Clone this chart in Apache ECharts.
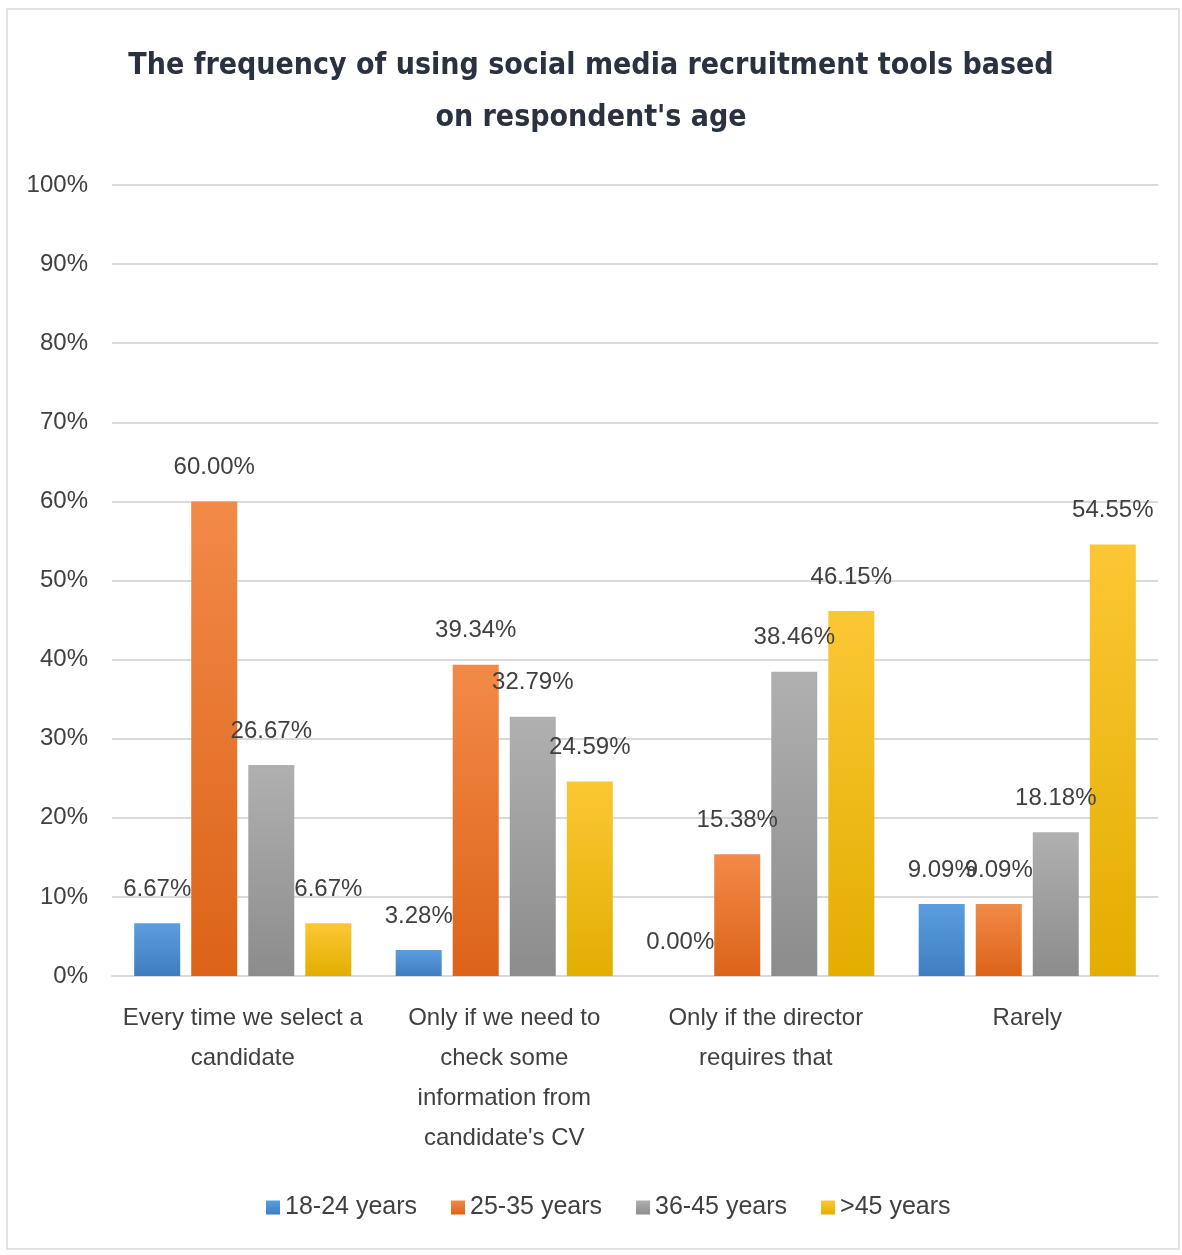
<!DOCTYPE html>
<html>
<head>
<meta charset="utf-8">
<script src="https://cdn.jsdelivr.net/npm/echarts@6/dist/echarts.min.js"></script>
<style>
  html, body { margin: 0; padding: 0; background: #fff; }
  #frame { position: absolute; left: 6px; top: 8px; width: 1170px; height: 1238px; border: 2px solid #e2e2e2; }
  #chart { position: absolute; left: 0; top: 0; width: 1182px; height: 1255px; }
</style>
</head>
<body>
<div id="frame"></div>
<div id="chart"></div>
<script>
  // categories (explicit line breaks as in the picture)
  const categories = [
    'Every time we select a\ncandidate',
    'Only if we need to\ncheck some\ninformation from\ncandidate\'s CV',
    'Only if the director\nrequires that',
    'Rarely'
  ]
  const seriesNames = ['18-24 years', '25-35 years', '36-45 years', '>45 years']
  const age18to24 = [6.67, 3.28, 0.00, 9.09]
  const age25to35 = [60.00, 39.34, 15.38, 9.09]
  const age36to45 = [26.67, 32.79, 38.46, 18.18]
  const ageOver45 = [6.67, 24.59, 46.15, 54.55]
  const yTicks = [0, 10, 20, 30, 40, 50, 60, 70, 80, 90, 100]

  const values = [age18to24, age25to35, age36to45, ageOver45]
  const colors = [
    ['#5a9ee0', '#3f7dc0'],
    ['#f28a48', '#dc6318'],
    ['#b0b0b0', '#8c8c8c'],
    ['#fcc734', '#e2ae00']
  ]
  const legendColors = ['#4a8cd0', '#e8732a', '#a0a0a0', '#f7bd14']
  const font = "'Liberation Sans', Arial, sans-serif"

  const chart = echarts.init(document.getElementById('chart'))

  const series = seriesNames.map((name, i) => ({
    name: name,
    type: 'bar',
    barWidth: 46,
    barGap: '24%',
    data: values[i],
    itemStyle: {
      color: new echarts.graphic.LinearGradient(0, 0, 0, 1, [
        { offset: 0, color: colors[i][0] },
        { offset: 1, color: colors[i][1] }
      ])
    },
    label: {
      show: true,
      position: 'top',
      distance: 22,
      color: '#404040',
      fontFamily: font,
      fontSize: 24,
      formatter: p => p.value.toFixed(2) + '%'
    }
  }))

  chart.setOption({
    animation: false,
    color: legendColors,
    title: {
      text: 'The frequency of using social media recruitment tools based\non respondent\'s age',
      left: 'center',
      top: 35,
      textStyle: {
        fontFamily: "'DejaVu Sans Condensed', 'Liberation Sans', sans-serif",
        fontWeight: 'bold',
        fontSize: 30,
        lineHeight: 52,
        color: '#2a3240'
      }
    },
    legend: {
      bottom: 30,
      left: 261,
      itemWidth: 14,
      itemHeight: 14,
      itemGap: 34,
      icon: 'rect',
      textStyle: { fontFamily: font, fontSize: 25, color: '#404040' },
      data: seriesNames
    },
    grid: { left: 112, right: 24, top: 185, bottom: 279, containLabel: false },
    xAxis: {
      type: 'category',
      data: categories,
      axisLine: { lineStyle: { color: '#d9d9d9', width: 2 } },
      axisTick: { show: false },
      axisLabel: {
        margin: 22,
        color: '#404040',
        fontFamily: font,
        fontSize: 24,
        lineHeight: 40,
        interval: 0
      }
    },
    yAxis: {
      type: 'value',
      min: yTicks[0],
      max: yTicks[yTicks.length - 1],
      interval: 10,
      axisLine: { show: false },
      axisTick: { show: false },
      splitLine: { lineStyle: { color: '#d9d9d9', width: 2 } },
      axisLabel: {
        margin: 24,
        color: '#404040',
        fontFamily: font,
        fontSize: 24,
        formatter: v => v + '%'
      }
    },
    series: series
  })
</script>
</body>
</html>
